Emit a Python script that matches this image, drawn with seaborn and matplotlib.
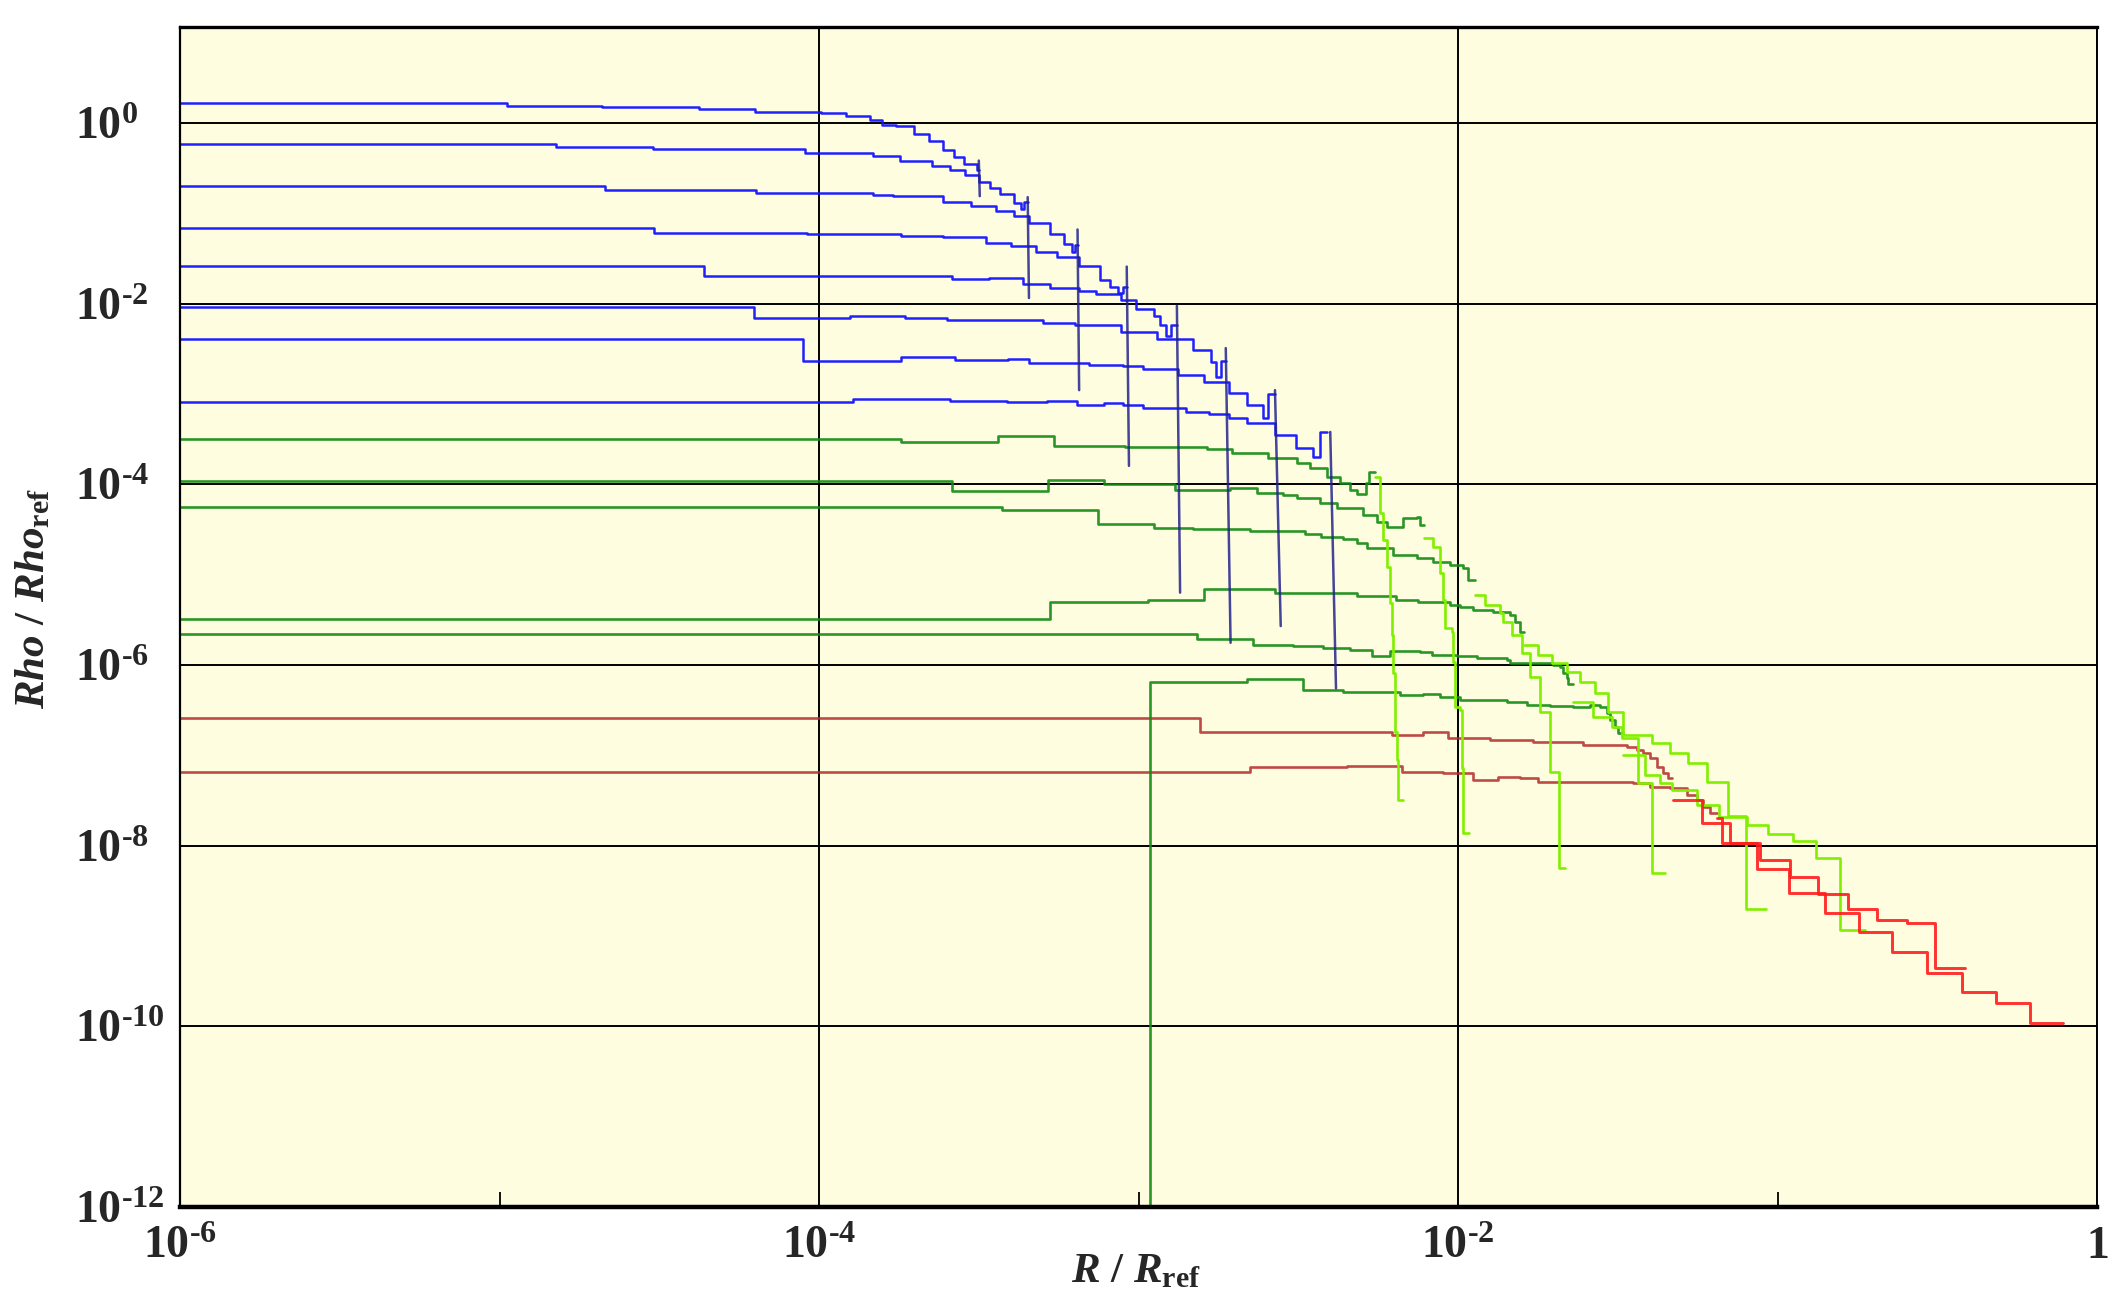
import numpy as np
import pandas as pd
import matplotlib
matplotlib.use('Agg')
import matplotlib.pyplot as plt
from matplotlib.ticker import FixedLocator, FixedFormatter, NullLocator, NullFormatter
import seaborn as sns

# values are log10(R/Rref) and log10(Rho/Rhoref)
# blue profiles (flat core, then falling, small bump at the front)
b1_x = [-6.0, -4.978, -4.679, -4.376, -4.199, -3.994, -3.916, -3.84, -3.803, -3.759, -3.703, -3.657, -3.612, -3.579, -3.546, -3.506, -3.5]
b1_y = [0.225, 0.195, 0.177, 0.161, 0.126, 0.111, 0.081, 0.033, -0.018, -0.033, -0.117, -0.196, -0.294, -0.374, -0.454, -0.513, -0.513]
b2_x = [-6.0, -4.822, -4.521, -4.045, -3.83, -3.746, -3.646, -3.59, -3.543, -3.5, -3.465, -3.433, -3.39, -3.368, -3.358, -3.347]
b2_y = [-0.235, -0.269, -0.289, -0.329, -0.359, -0.414, -0.473, -0.513, -0.576, -0.651, -0.72, -0.789, -0.886, -0.948, -0.875, -0.875]
b3_x = [-6.0, -4.671, -4.197, -3.83, -3.768, -3.612, -3.524, -3.445, -3.39, -3.344, -3.277, -3.233, -3.208, -3.199, -3.191]
b3_y = [-0.694, -0.738, -0.768, -0.793, -0.808, -0.868, -0.916, -0.968, -1.026, -1.106, -1.224, -1.343, -1.421, -1.351, -1.351]
b4_x = [-6.0, -4.517, -4.039, -3.742, -3.612, -3.478, -3.4, -3.322, -3.255, -3.187, -3.12, -3.088, -3.064, -3.048, -3.037]
b4_y = [-1.163, -1.213, -1.228, -1.248, -1.262, -1.323, -1.362, -1.422, -1.482, -1.58, -1.739, -1.816, -1.876, -1.816, -1.816]
b5_x = [-6.0, -4.361, -3.584, -3.468, -3.361, -3.277, -3.187, -3.133, -3.055, -3.009, -2.953, -2.933, -2.914, -2.897, -2.88]
b5_y = [-1.583, -1.688, -1.73, -1.718, -1.778, -1.826, -1.857, -1.896, -1.955, -2.055, -2.133, -2.236, -2.351, -2.232, -2.232]
b6_x = [-6.0, -4.203, -3.902, -3.731, -3.6, -3.433, -3.299, -3.199, -3.055, -2.942, -2.83, -2.774, -2.758, -2.741, -2.727]
b6_y = [-2.038, -2.152, -2.132, -2.152, -2.176, -2.181, -2.213, -2.232, -2.312, -2.391, -2.509, -2.646, -2.805, -2.628, -2.628]
b7_x = [-6.0, -4.05, -3.742, -3.573, -3.408, -3.343, -3.155, -3.049, -2.986, -2.875, -2.796, -2.718, -2.662, -2.612, -2.595, -2.573]
b7_y = [-2.385, -2.631, -2.592, -2.622, -2.607, -2.659, -2.675, -2.687, -2.727, -2.785, -2.865, -2.984, -3.122, -3.26, -3.003, -3.003]
b8_x = [-6.0, -3.894, -3.59, -3.412, -3.288, -3.193, -3.109, -3.049, -2.986, -2.852, -2.779, -2.718, -2.662, -2.573, -2.506, -2.455, -2.433, -2.41]
b8_y = [-3.091, -3.054, -3.071, -3.082, -3.074, -3.122, -3.102, -3.122, -3.154, -3.199, -3.222, -3.26, -3.32, -3.458, -3.597, -3.695, -3.419, -3.419]

# navy drops at the front of each blue profile (top x, bottom x, top, bottom)
drop_xt = [-3.5, -3.347, -3.191, -3.037, -2.88, -2.727, -2.573, -2.40]
drop_xb = [-3.497, -3.343, -3.186, -3.03, -2.87, -2.712, -2.555, -2.382]
drop_top = [-0.414, -0.819, -1.177, -1.588, -2.023, -2.49, -2.956, -3.419]
drop_bot = [-0.808, -1.936, -2.956, -3.794, -5.198, -5.753, -5.568, -6.258]

# dark green profiles
g1_x = [-6.0, -3.742, -3.441, -3.264, -3.042, -2.786, -2.707, -2.595, -2.504, -2.463, -2.41, -2.369, -2.338, -2.316, -2.288, -2.279, -2.26]
g1_y = [-3.492, -3.532, -3.46, -3.57, -3.581, -3.609, -3.65, -3.709, -3.767, -3.823, -3.916, -3.989, -4.063, -4.107, -3.985, -3.86, -3.86]
g2_x = [-6.0, -3.584, -3.283, -3.109, -2.886, -2.714, -2.629, -2.548, -2.504, -2.432, -2.379, -2.297, -2.254, -2.222, -2.172, -2.128, -2.119, -2.106]
g2_y = [-3.961, -4.074, -3.947, -3.992, -4.063, -4.044, -4.099, -4.118, -4.155, -4.21, -4.265, -4.34, -4.414, -4.469, -4.376, -4.358, -4.45, -4.45]
g3_x = [-6.0, -3.427, -3.127, -2.953, -2.83, -2.651, -2.479, -2.429, -2.36, -2.316, -2.285, -2.203, -2.128, -2.078, -2.025, -1.984, -1.969, -1.947]
g3_y = [-4.248, -4.28, -4.439, -4.486, -4.498, -4.513, -4.553, -4.587, -4.609, -4.653, -4.708, -4.782, -4.819, -4.857, -4.893, -4.93, -5.059, -5.059]
g4_x = [-6.0, -3.277, -2.97, -2.796, -2.573, -2.316, -2.194, -2.125, -2.025, -1.994, -1.953, -1.89, -1.837, -1.822, -1.806, -1.793]
g4_y = [-5.493, -5.296, -5.276, -5.162, -5.206, -5.236, -5.281, -5.306, -5.336, -5.358, -5.391, -5.413, -5.447, -5.524, -5.635, -5.635]
g5_x = [-6.0, -2.818, -2.642, -2.516, -2.423, -2.338, -2.269, -2.213, -2.119, -2.081, -2.003, -1.941, -1.847, -1.837, -1.703, -1.681, -1.671, -1.659, -1.656, -1.64]
g5_y = [-5.657, -5.716, -5.779, -5.79, -5.815, -5.834, -5.895, -5.845, -5.856, -5.89, -5.901, -5.923, -5.945, -5.978, -6.0, -6.022, -6.089, -6.144, -6.211, -6.211]
g6_x = [-2.964, -2.964, -2.661, -2.485, -2.36, -2.182, -2.11, -2.056, -1.994, -1.847, -1.784, -1.712, -1.64, -1.587, -1.556, -1.534, -1.524, -1.509, -1.499, -1.484]
g6_y = [-13.0, -6.185, -6.159, -6.277, -6.296, -6.332, -6.321, -6.351, -6.388, -6.407, -6.443, -6.454, -6.462, -6.443, -6.462, -6.532, -6.609, -6.683, -6.753, -6.753]

# light green fronts following each green profile
l1_x = [-2.26, -2.244, -2.235, -2.222, -2.213, -2.207, -2.204, -2.197, -2.191, -2.188, -2.172]
l1_y = [-3.916, -4.317, -4.616, -4.915, -5.314, -5.668, -6.089, -6.742, -7.052, -7.495, -7.495]
l2_x = [-2.106, -2.078, -2.056, -2.047, -2.041, -2.018, -2.015, -2.009, -1.994, -1.987, -1.984, -1.965]
l2_y = [-4.598, -4.691, -4.982, -5.281, -5.591, -5.635, -5.967, -6.465, -6.498, -7.14, -7.86, -7.86]
l3_x = [-1.947, -1.915, -1.869, -1.859, -1.831, -1.8, -1.775, -1.743, -1.712, -1.684, -1.665]
l3_y = [-5.225, -5.336, -5.425, -5.524, -5.668, -5.867, -6.133, -6.52, -7.185, -8.247, -8.247]
l4_x = [-1.793, -1.75, -1.706, -1.659, -1.618, -1.571, -1.531, -1.484, -1.393, -1.336, -1.28, -1.221, -1.155, -1.099, -1.036]
l4_y = [-5.779, -5.89, -5.978, -6.078, -6.189, -6.31, -6.52, -6.775, -6.864, -6.974, -7.085, -7.295, -7.672, -8.701, -8.701]
l5_x = [-1.64, -1.577, -1.518, -1.487, -1.437, -1.393, -1.352]
l5_y = [-6.41, -6.576, -6.687, -6.809, -7.307, -8.303, -8.303]
l6_x = [-1.484, -1.415, -1.368, -1.33, -1.252, -1.183, -1.095, -1.03, -0.951, -0.879, -0.804, -0.726]
l6_y = [-6.997, -7.218, -7.307, -7.384, -7.55, -7.683, -7.771, -7.871, -7.949, -8.137, -8.934, -8.934]

# dark red profiles and their bright red tails
r1_x = [-6.0, -2.808, -2.208, -2.11, -2.031, -1.9, -1.765, -1.609, -1.471, -1.44, -1.421, -1.399, -1.377, -1.358, -1.343, -1.33]
r1_y = [-6.59, -6.739, -6.775, -6.739, -6.812, -6.825, -6.849, -6.886, -6.905, -6.941, -6.974, -7.03, -7.13, -7.196, -7.251, -7.251]
r2_x = [-6.0, -2.651, -2.349, -2.176, -2.047, -1.953, -1.875, -1.806, -1.75, -1.452, -1.399, -1.336, -1.283, -1.252, -1.233, -1.211, -1.189]
r2_y = [-7.181, -7.133, -7.115, -7.181, -7.193, -7.273, -7.237, -7.255, -7.292, -7.31, -7.354, -7.365, -7.439, -7.495, -7.569, -7.642, -7.642]
ra_x = [-1.327, -1.236, -1.149, -1.055, -0.961, -0.873, -0.779, -0.689, -0.595, -0.507, -0.413]
ra_y = [-7.495, -7.749, -7.97, -8.158, -8.35, -8.535, -8.705, -8.823, -8.86, -9.351, -9.351]
rb_x = [-1.189, -1.174, -1.064, -0.964, -0.851, -0.745, -0.642, -0.532, -0.423, -0.316, -0.21, -0.106]
rb_y = [-7.697, -7.974, -8.262, -8.519, -8.742, -8.953, -9.181, -9.406, -9.617, -9.745, -9.967, -9.967]

HY = '\u2010'  # short hyphen as used in the exponents
x_ticks = [1e-6, 1e-4, 1e-2, 1.0]
x_labels = ['$10^{%s6}$' % HY, '$10^{%s4}$' % HY, '$10^{%s2}$' % HY, '$1$']
x_minor = [1e-5, 1e-3, 1e-1]
y_ticks = [1e-12, 1e-10, 1e-8, 1e-6, 1e-4, 1e-2, 1.0]
y_labels = ['$10^{%s12}$' % HY, '$10^{%s10}$' % HY, '$10^{%s8}$' % HY, '$10^{%s6}$' % HY,
            '$10^{%s4}$' % HY, '$10^{%s2}$' % HY, '$10^{0}$']

BLUE = '#1414ff'
NAVY = '#23238c'
GREEN = '#138a13'
LIME = '#80f000'
DRED = '#b32a2a'
RED = '#ff1c1c'

sns.set_style('white')
plt.rcParams['font.family'] = ['Liberation Serif', 'DejaVu Serif']
plt.rcParams['font.weight'] = 'bold'
plt.rcParams['mathtext.fontset'] = 'custom'
plt.rcParams['mathtext.rm'] = 'Liberation Serif:bold'
plt.rcParams['mathtext.bf'] = 'Liberation Serif:bold'
plt.rcParams['mathtext.it'] = 'Liberation Serif:italic:bold'


def step_line(ax, lx, ly, color, lw=1.7, alpha=1.0):
    df = pd.DataFrame({'R': 10.0 ** np.array(lx), 'rho': 10.0 ** np.array(ly)})
    sns.lineplot(data=df, x='R', y='rho', ax=ax, color=color, lw=lw, alpha=alpha,
                 drawstyle='steps-post', sort=False, estimator=None, legend=False)


fig = plt.figure(figsize=(21.21, 13.06), dpi=100)
fig.patch.set_facecolor('white')
ax = fig.add_axes([0.0849, 0.0758, 0.9038, 0.9035])
ax.set_facecolor('#fffddf')

for lx, ly in [(r1_x, r1_y), (r2_x, r2_y)]:
    step_line(ax, lx, ly, DRED, lw=1.9, alpha=0.85)
for lx, ly in [(g1_x, g1_y), (g2_x, g2_y), (g3_x, g3_y), (g4_x, g4_y), (g5_x, g5_y), (g6_x, g6_y)]:
    step_line(ax, lx, ly, GREEN, lw=1.9, alpha=0.9)
for lx, ly in [(l1_x, l1_y), (l2_x, l2_y), (l3_x, l3_y), (l4_x, l4_y), (l5_x, l5_y), (l6_x, l6_y)]:
    step_line(ax, lx, ly, LIME, lw=1.9)
for lx, ly in [(ra_x, ra_y), (rb_x, rb_y)]:
    step_line(ax, lx, ly, RED, lw=2.1, alpha=0.9)
for lx, ly in [(b1_x, b1_y), (b2_x, b2_y), (b3_x, b3_y), (b4_x, b4_y),
               (b5_x, b5_y), (b6_x, b6_y), (b7_x, b7_y), (b8_x, b8_y)]:
    step_line(ax, lx, ly, BLUE, lw=1.8, alpha=0.95)
for xt, xb, yt, yb in zip(drop_xt, drop_xb, drop_top, drop_bot):
    ax.plot([10.0 ** xt, 10.0 ** xb], [10.0 ** yt, 10.0 ** yb], color=NAVY, lw=1.8, alpha=0.85)

ax.set_xscale('log')
ax.set_yscale('log')
ax.set_xlim(1e-6, 1.0)
ax.set_ylim(1e-12, 11.6)

ax.xaxis.set_major_locator(FixedLocator(x_ticks))
ax.xaxis.set_major_formatter(FixedFormatter(x_labels))
ax.xaxis.set_minor_locator(FixedLocator(x_minor))
ax.xaxis.set_minor_formatter(NullFormatter())
ax.yaxis.set_major_locator(FixedLocator(y_ticks))
ax.yaxis.set_major_formatter(FixedFormatter(y_labels))
ax.yaxis.set_minor_locator(NullLocator())

ax.grid(True, which='major', color='black', lw=1.4)
ax.tick_params(axis='both', which='major', length=0, labelsize=33)
ax.tick_params(axis='x', which='major', pad=14)
# y labels are left-aligned in a column left of the axis
ax.tick_params(axis='y', which='major', pad=76)
for lbl in ax.get_yticklabels():
    lbl.set_horizontalalignment('left')
ax.tick_params(axis='x', which='minor', direction='in', length=11, width=1.3,
               color='black', bottom=True, top=False, labelbottom=False)
ax.set_xlabel('')
ax.set_ylabel('')

for side, lw in [('top', 2.4), ('bottom', 3.2), ('left', 1.6), ('right', 1.4)]:
    ax.spines[side].set_visible(True)
    ax.spines[side].set_color('black')
    ax.spines[side].set_linewidth(lw)

fig.text(0.5356, 0.026, r'$\mathit{R}$ / $\mathit{R}_{\mathrm{ref}}$', fontsize=31,
         ha='center', va='center')
fig.text(0.016, 0.542, r'$\mathit{Rho}$ / $\mathit{Rho}_{\mathrm{ref}}$', fontsize=31,
         ha='center', va='center', rotation=90)

fig.savefig('out.png', dpi=100, facecolor='white')
